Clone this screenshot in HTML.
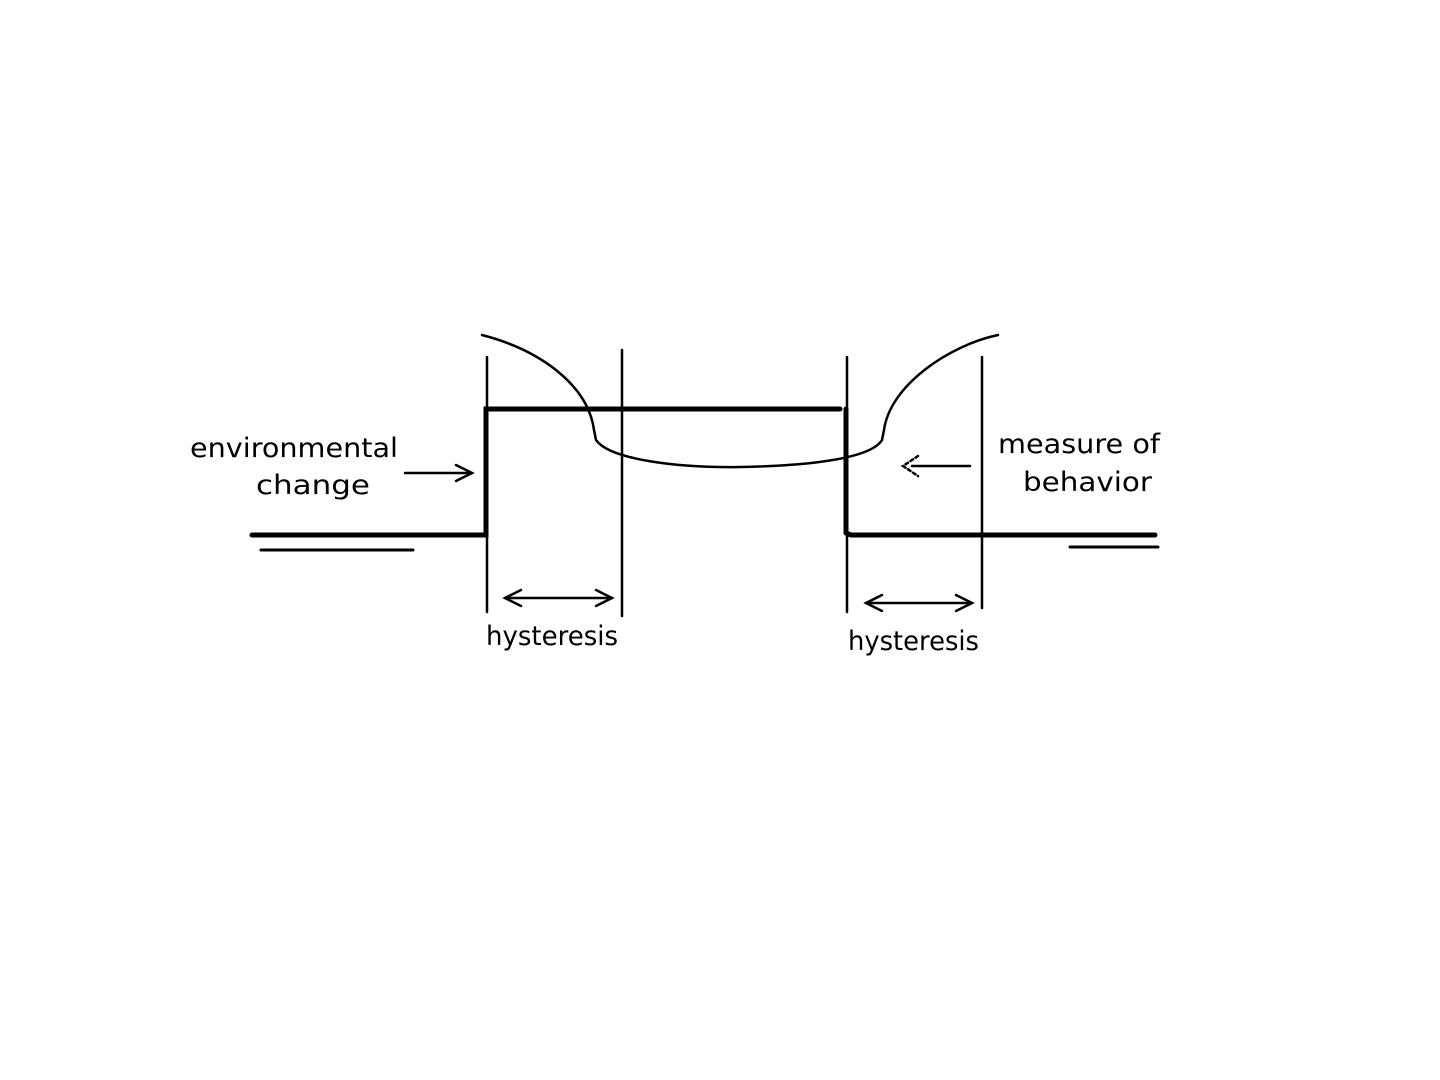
<!DOCTYPE html>
<html><head><style>html,body{margin:0;padding:0;background:#fff}</style></head><body>
<svg width="1440" height="1080" xmlns="http://www.w3.org/2000/svg" style="display:block">
<g fill="none" stroke="#000" stroke-linecap="round">
<polyline points="252,535 486,535 486,409 840,409" stroke-width="5"/>
<polyline points="846,409 846,533 851,535 1155,535" stroke-width="5" stroke-linejoin="round"/>
<line x1="261" y1="550" x2="413" y2="550" stroke-width="3"/>
<line x1="1070" y1="547" x2="1158" y2="547" stroke-width="3"/>
<line x1="487" y1="357" x2="487" y2="612" stroke-width="2.5"/>
<line x1="622" y1="350" x2="622" y2="616" stroke-width="2.5"/>
<line x1="847" y1="357" x2="847" y2="612" stroke-width="2.5"/>
<line x1="982" y1="357" x2="982" y2="608" stroke-width="2.5"/>
<path d="M482,335 C540,350 588,385 594,430 L596,440 C610,460 680,468 740,467 C800,466 870,460 882,440 L884,430 C890,385 950,345 998,335" stroke-width="2.5"/>
<line x1="405" y1="473" x2="472" y2="473" stroke-width="2.5"/>
<polyline points="456,465 472,473 456,481" stroke-width="2.5"/>
<line x1="505" y1="598" x2="612" y2="598" stroke-width="2.5"/>
<polyline points="521,590 505,598 521,606" stroke-width="2.5"/>
<polyline points="596,590 612,598 596,606" stroke-width="2.5"/>
<line x1="866" y1="603" x2="972" y2="603" stroke-width="2.5"/>
<polyline points="882,595 866,603 882,611" stroke-width="2.5"/>
<polyline points="956,595 972,603 956,611" stroke-width="2.5"/>
<line x1="912" y1="466" x2="970" y2="466" stroke-width="2.5"/>
<polyline points="918,456 903,466 918,476" stroke-width="2.5" stroke-dasharray="3,3"/>
</g>
<g font-family="'DejaVu Sans','Liberation Sans',sans-serif" font-size="27" fill="#000">
<text x="190" y="457" textLength="208" lengthAdjust="spacingAndGlyphs">environmental</text>
<text x="256" y="494" textLength="114" lengthAdjust="spacingAndGlyphs">change</text>
<text x="486" y="645" textLength="132" lengthAdjust="spacingAndGlyphs">hysteresis</text>
<text x="848" y="650" textLength="131" lengthAdjust="spacingAndGlyphs">hysteresis</text>
<text x="998" y="453" textLength="162" lengthAdjust="spacingAndGlyphs">measure of</text>
<text x="1023" y="491" textLength="129" lengthAdjust="spacingAndGlyphs">behavior</text>
</g>
</svg>
</body></html>
